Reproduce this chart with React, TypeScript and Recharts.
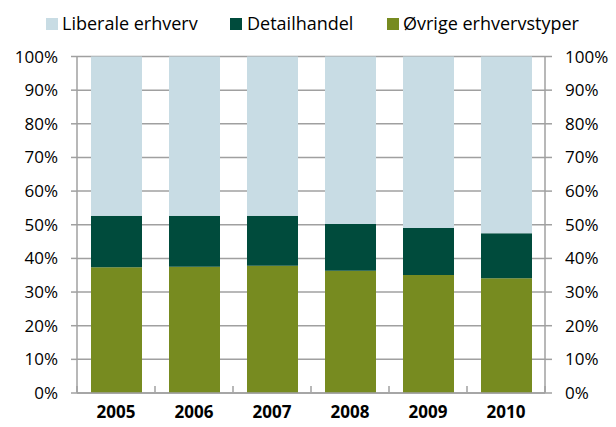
import React from 'react';
import { ComposedChart, Bar, Line, XAxis, YAxis, CartesianGrid } from 'recharts';

const years = ['2005', '2006', '2007', '2008', '2009', '2010'];
const ovrige = [37.4, 37.5, 37.8, 36.3, 35.1, 34.1];
const detailhandel = [15.3, 15.2, 14.9, 13.9, 13.9, 13.4];
const liberale = [47.3, 47.3, 47.3, 49.8, 51.0, 52.5];
const yTicks = [0, 10, 20, 30, 40, 50, 60, 70, 80, 90, 100];

const seriesNames = ['Liberale erhverv', 'Detailhandel', 'Øvrige erhvervstyper'];
const colors = ['#C8DCE4', '#004B3C', '#778B20'];

const data = years.map((y, i) => ({
  year: y,
  ovrige: ovrige[i],
  detail: detailhandel[i],
  liberale: liberale[i],
}));

const FONT = '"Open Sans", "Liberation Sans", sans-serif';
const AXIS = '#A0A0A0';

const XTick = (props: any) => {
  const { x, y, payload, index, visibleTicksCount } = props;
  const half = payload && payload.offset ? payload.offset : 39;
  const top = y - 15;
  return (
    <g>
      <line x1={x - half} x2={x - half} y1={top} y2={top + 6} stroke={AXIS} strokeWidth={1.5} />
      {index === visibleTicksCount - 1 && (
        <line x1={x + half} x2={x + half} y1={top} y2={top + 6} stroke={AXIS} strokeWidth={1.5} />
      )}
      <text x={x} y={top + 32} textAnchor="middle" fontFamily={FONT} fontSize={17} fontWeight="bold" fill="#000">
        {payload.value}
      </text>
    </g>
  );
};

const legendPos = [
  { sq: 46, tx: 62 },
  { sq: 230, tx: 247 },
  { sq: 387, tx: 403 },
];

export default function App() {
  return (
    <div style={{ position: 'absolute', left: 0, top: 0, width: 616, height: 427, background: '#fff' }}>
      {seriesNames.map((n, i) => (
        <div key={n}>
          <div
            style={{
              position: 'absolute',
              left: legendPos[i].sq,
              top: 18,
              width: 12,
              height: 12,
              background: colors[i],
            }}
          />
          <div
            style={{
              position: 'absolute',
              left: legendPos[i].tx,
              top: 10,
              fontFamily: FONT,
              fontSize: 18,
              lineHeight: '26px',
              color: '#000',
              whiteSpace: 'nowrap',
            }}
          >
            {n}
          </div>
        </div>
      ))}
      <ComposedChart
        width={616}
        height={427}
        data={data}
        margin={{ top: 56.5, right: 0, bottom: 0, left: 0 }}
        barSize={51}
      >
        <CartesianGrid horizontal vertical={false} stroke={AXIS} strokeWidth={1.5} />
        <XAxis
          dataKey="year"
          height={34}
          axisLine={{ stroke: AXIS, strokeWidth: 1.5 }}
          tickLine={false}
          tick={<XTick />}
          interval={0}
        />
        <YAxis
          orientation="left"
          width={77}
          domain={[0, 100]}
          ticks={yTicks}
          interval={0}
          tickFormatter={(v: number) => `${v}%`}
          axisLine={{ stroke: AXIS, strokeWidth: 1.5 }}
          tickLine={{ stroke: AXIS, strokeWidth: 1.5 }}
          tickSize={6}
          tickMargin={13}
          tick={{ fontFamily: FONT, fontSize: 17, fill: '#000' }}
        />
        <YAxis
          yAxisId="right"
          orientation="right"
          width={71}
          domain={[0, 100]}
          ticks={yTicks}
          interval={0}
          tickFormatter={(v: number) => `${v}%`}
          axisLine={{ stroke: AXIS, strokeWidth: 1.5 }}
          tickLine={{ stroke: AXIS, strokeWidth: 1.5 }}
          tickSize={7}
          tickMargin={13}
          tick={{ fontFamily: FONT, fontSize: 17, fill: '#000' }}
        />
        <Bar dataKey="ovrige" stackId="a" fill={colors[2]} isAnimationActive={false} />
        <Bar dataKey="detail" stackId="a" fill={colors[1]} isAnimationActive={false} />
        <Bar dataKey="liberale" stackId="a" fill={colors[0]} isAnimationActive={false} />
        <Line
          yAxisId="right"
          dataKey="ovrige"
          stroke="none"
          dot={false}
          activeDot={false}
          legendType="none"
          isAnimationActive={false}
        />
      </ComposedChart>
    </div>
  );
}
